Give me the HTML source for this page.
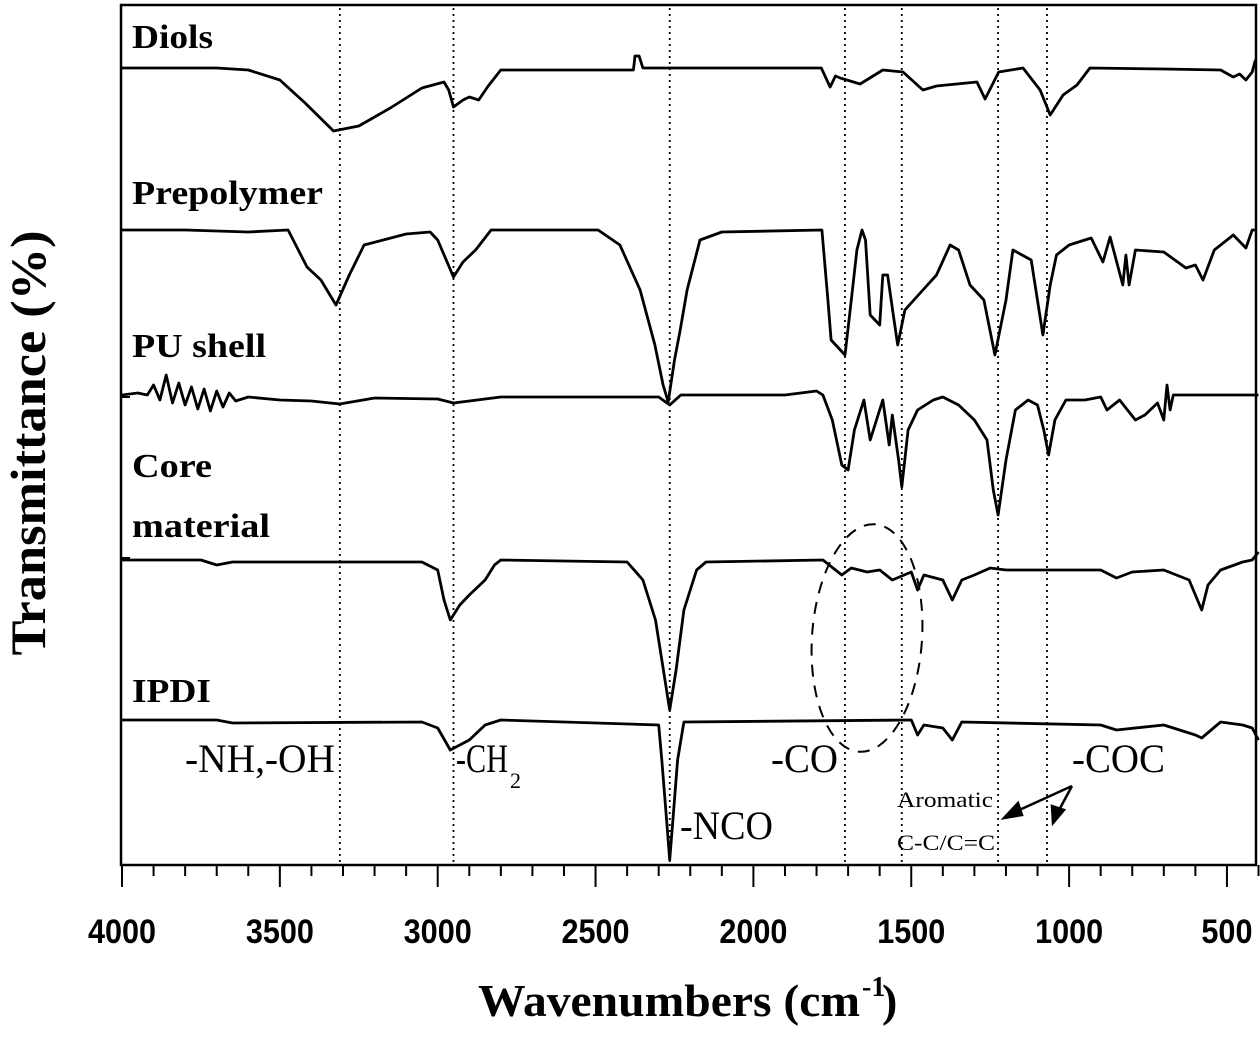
<!DOCTYPE html>
<html><head><meta charset="utf-8"><style>
html,body{margin:0;padding:0;background:#fff;}
svg text{font-family:"Liberation Serif",serif;}
</style></head><body>
<svg id="chart" width="1260" height="1040" viewBox="0 0 1260 1040" xmlns="http://www.w3.org/2000/svg">
<g id="grid"></g>
<g id="series"></g>
<rect x="121" y="5" width="1135" height="860" fill="none" stroke="#000" stroke-width="2.5"/>
<g id="xaxis"></g>
<g id="yticks"></g>
<text x="132" y="48" font-size="34" font-weight="bold" textLength="81" lengthAdjust="spacingAndGlyphs">Diols</text>
<text x="132" y="204" font-size="34" font-weight="bold" textLength="191" lengthAdjust="spacingAndGlyphs">Prepolymer</text>
<text x="132" y="357" font-size="34" font-weight="bold" textLength="134" lengthAdjust="spacingAndGlyphs">PU shell</text>
<text x="132" y="477" font-size="34" font-weight="bold" textLength="80" lengthAdjust="spacingAndGlyphs">Core</text>
<text x="132" y="537" font-size="34" font-weight="bold" textLength="138" lengthAdjust="spacingAndGlyphs">material</text>
<text x="132" y="702" font-size="34" font-weight="bold" textLength="79" lengthAdjust="spacingAndGlyphs">IPDI</text>
<text x="185" y="772" font-size="40" textLength="150" lengthAdjust="spacingAndGlyphs">-NH,-OH</text>
<text x="456" y="772" font-size="40" textLength="52" lengthAdjust="spacingAndGlyphs">-CH</text>
<text x="510" y="788" font-size="22">2</text>
<text x="680" y="839" font-size="40" textLength="93" lengthAdjust="spacingAndGlyphs">-NCO</text>
<text x="771" y="772" font-size="40" textLength="67" lengthAdjust="spacingAndGlyphs">-CO</text>
<text x="1072" y="772" font-size="40" textLength="93" lengthAdjust="spacingAndGlyphs">-COC</text>
<text x="897" y="807" font-size="22" textLength="96" lengthAdjust="spacingAndGlyphs">Aromatic</text>
<text x="897" y="850" font-size="22" textLength="98" lengthAdjust="spacingAndGlyphs">C-C/C=C</text>
<g stroke="#000" stroke-width="2.5" fill="#000">
<line x1="1072" y1="786" x2="1015" y2="812"/>
<polygon points="1004,818 1018,803 1022,815"/>
<line x1="1072" y1="786" x2="1058" y2="812"/>
<polygon points="1053,823 1052,806 1064,810"/>
</g>
<ellipse cx="867" cy="638" rx="55" ry="114" fill="none" stroke="#000" stroke-width="2" stroke-dasharray="12,9" transform="rotate(4 867 638)"/>
<text transform="translate(45 443) rotate(-90)" text-anchor="middle" font-size="50" font-weight="bold" textLength="425" lengthAdjust="spacingAndGlyphs">Transmittance (%)</text>
<text x="478" y="1016" font-size="46" font-weight="bold" textLength="382" lengthAdjust="spacingAndGlyphs">Wavenumbers (cm</text>
<text x="862" y="996" font-size="28" font-weight="bold">-1</text>
<text x="882" y="1016" font-size="46" font-weight="bold">)</text>
</svg>
<script>
const xTicks=[4000,3500,3000,2500,2000,1500,1000,500];
const peakLines=[3310,2950,2265,1710,1530,1225,1070];
const diolsWn=[4000,3700,3600,3500,3420,3330,3250,3150,3050,2980,2965,2950,2920,2900,2870,2840,2800,2380,2375,2362,2350,2345,1785,1757,1740,1725,1662,1590,1526,1463,1420,1292,1266,1223,1146,1092,1060,1019,975,934,700,520,480,460,440,420,410];
const diolsDrop=[0,0,2,12,35,63,58,40,20,14,22,39,32,29,32,18,2,2,-12,-12,0,0,0,19,8,10,16,2,4,22,18,14,31,4,0,22,47,27,17,0,1,2,9,6,12,4,-8];
const preWn=[4000,3800,3600,3474,3414,3370,3322,3280,3233,3100,3024,3000,2950,2920,2880,2831,2492,2423,2359,2312,2286,2270,2250,2232,2210,2169,2100,1783,1764,1754,1710,1690,1672,1656,1645,1630,1600,1590,1575,1557,1543,1520,1463,1420,1377,1350,1314,1270,1235,1200,1178,1120,1083,1060,1040,1000,930,893,870,830,820,810,790,700,630,600,576,540,480,440,420,405];
const preDrop=[0,0,2,0,37,50,75,45,15,4,2,10,47,32,20,0,0,15,60,115,155,172,130,100,60,10,2,0,70,110,125,70,20,0,10,85,95,45,45,85,115,80,60,45,15,20,55,70,125,70,20,30,105,55,25,15,8,32,7,55,25,55,20,22,38,35,50,20,5,18,0,0];
const puWn=[4000,3950,3920,3900,3880,3860,3840,3820,3800,3780,3760,3740,3720,3700,3680,3660,3640,3600,3500,3400,3310,3200,3000,2950,2900,2800,2300,2265,2230,1900,1800,1780,1750,1720,1700,1680,1650,1630,1610,1590,1570,1560,1540,1530,1510,1480,1430,1400,1350,1300,1260,1240,1225,1200,1170,1130,1100,1080,1065,1045,1010,950,900,880,840,790,760,720,700,690,680,670,400];
const puDrop=[0,-2,0,-10,5,-20,8,-12,10,-8,14,-6,16,-4,12,-2,6,2,5,6,9,3,4,8,6,2,2,10,0,0,-4,0,25,70,75,35,5,45,25,5,50,20,65,92,35,15,5,2,10,25,45,95,120,65,15,5,10,35,60,25,5,5,2,15,5,25,20,8,25,-10,15,0,0];
const coreWn=[4000,3750,3700,3650,3050,3000,2980,2960,2930,2900,2850,2820,2800,2400,2350,2310,2285,2265,2245,2220,2180,2150,1780,1720,1690,1640,1600,1560,1500,1480,1460,1400,1370,1340,1300,1250,1200,1100,900,850,800,700,620,580,560,520,450,420,400];
const coreDrop=[0,0,5,2,2,10,40,60,45,35,20,5,0,2,20,60,110,150,110,50,10,2,0,15,8,12,10,20,12,30,15,20,40,20,15,8,10,10,10,18,12,10,20,50,25,10,2,0,-8];
const ipdiWn=[4000,3700,3650,3050,3000,2960,2930,2900,2850,2800,2300,2290,2275,2265,2255,2240,2220,1500,1480,1460,1400,1370,1340,900,850,700,600,580,520,450,420,400];
const ipdiDrop=[0,0,3,2,8,30,25,20,5,0,5,40,100,140,100,40,2,0,15,5,8,20,2,5,10,5,15,18,2,5,8,20];
const baselines=[68,230,395,560,720];
const allWn=[diolsWn,preWn,puWn,coreWn,ipdiWn];
const allDrop=[diolsDrop,preDrop,puDrop,coreDrop,ipdiDrop];
const names=['diols','prepolymer','pu-shell','core-material','ipdi'];
const NS='http://www.w3.org/2000/svg';
function xs(w){return 122+(4000-w)*0.3157;}
function ys(i,d){return baselines[i]+d;}
const g=document.getElementById('grid');
peakLines.forEach(w=>{const l=document.createElementNS(NS,'line');


l.setAttribute('x1',xs(w));l.setAttribute('x2',xs(w));l.setAttribute('y1',8);l.setAttribute('y2',865);
l.setAttribute('stroke','#000');l.setAttribute('stroke-width','1.8');l.setAttribute('stroke-dasharray','2,4');g.appendChild(l);});
const s=document.getElementById('series');
allWn.forEach((wn,i)=>{let d='';wn.forEach((w,k)=>{d+=(k?'L':'M')+xs(w).toFixed(1)+','+ys(i,allDrop[i][k]).toFixed(1);});
const p=document.createElementNS(NS,'path');


p.setAttribute('d',d);p.setAttribute('fill','none');p.setAttribute('stroke','#000');p.setAttribute('stroke-width','2.8');p.setAttribute('stroke-linejoin','round');s.appendChild(p);});
const xa=document.getElementById('xaxis');
for(let w=4000;w>=400;w-=100){const major=w%500===0;const l=document.createElementNS(NS,'line');


l.setAttribute('x1',xs(w));l.setAttribute('x2',xs(w));l.setAttribute('y1',865);l.setAttribute('y2',major?887:876);
l.setAttribute('stroke','#000');l.setAttribute('stroke-width','2');xa.appendChild(l);}
xTicks.forEach(w=>{const t=document.createElementNS(NS,'text');


t.setAttribute('x',xs(w));t.setAttribute('y',943);t.setAttribute('text-anchor','middle');
t.setAttribute('font-size','34');t.setAttribute('font-weight','bold');t.setAttribute('style','font-family:"Liberation Sans",sans-serif');
t.setAttribute('transform','translate('+xs(w)+' 0) scale(0.9 1) translate('+(-xs(w))+' 0)');
t.textContent=w;xa.appendChild(t);});
const ya=document.getElementById('yticks');
[230,397,558].forEach(y=>{const l=document.createElementNS(NS,'line');


l.setAttribute('x1',121);l.setAttribute('x2',130);l.setAttribute('y1',y);l.setAttribute('y2',y);l.setAttribute('stroke','#000');l.setAttribute('stroke-width','2');ya.appendChild(l);});
</script>
</body></html>
